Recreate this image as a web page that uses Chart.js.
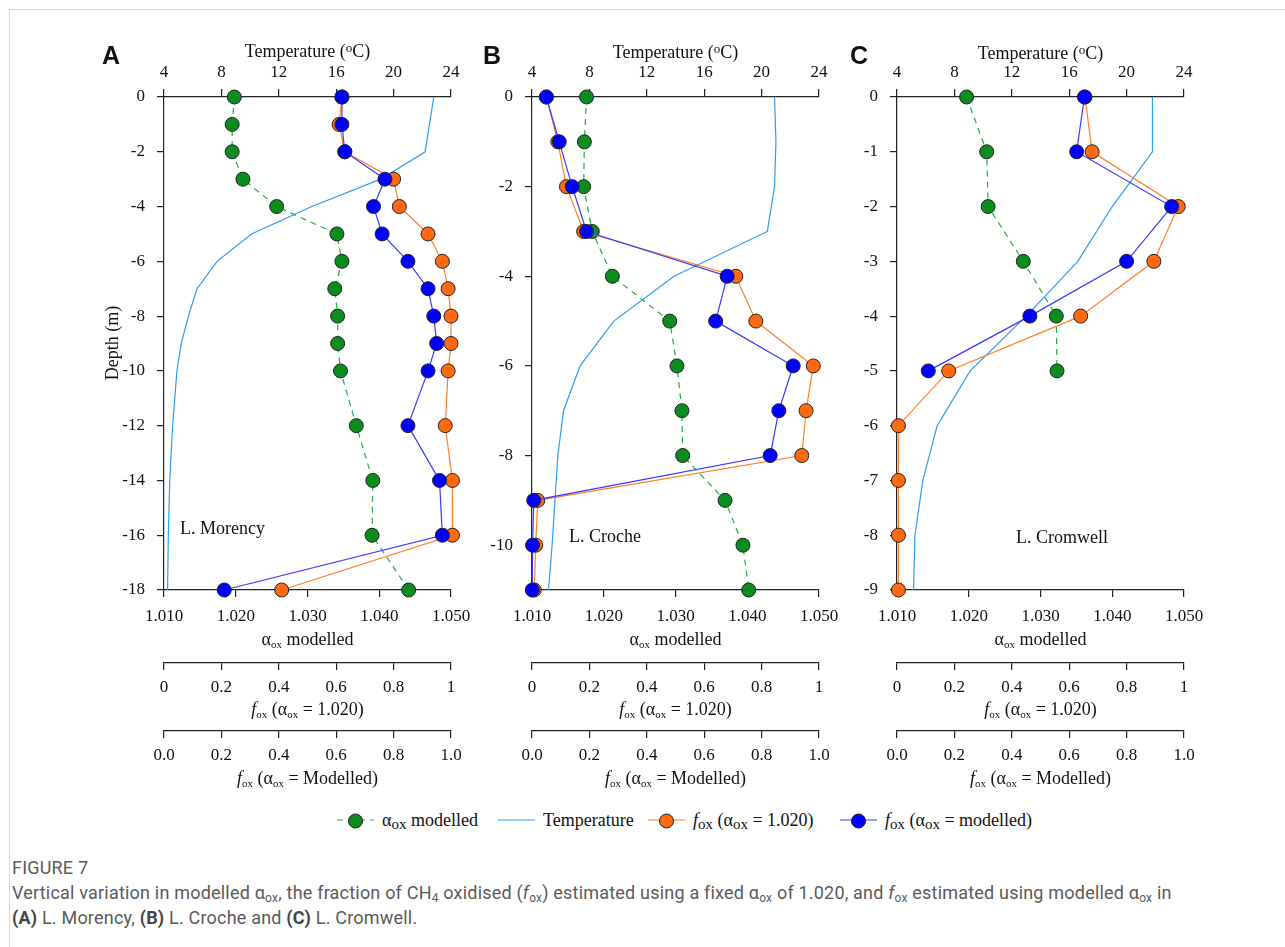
<!DOCTYPE html>
<html>
<head>
<meta charset="utf-8">
<script src="https://cdn.jsdelivr.net/npm/chart.js@4.4.0/dist/chart.umd.min.js"></script>
<style>
  body { margin: 0; background: #fff; }
  #fig { position: relative; width: 1285px; height: 947px; overflow: hidden;
         font-family: 'Liberation Serif', 'Times New Roman', serif; color: #111; }
  #frame { position: absolute; left: 9px; top: 9px; right: 0; bottom: 0;
           border-top: 1px solid #d6d6d6; border-left: 1px solid #d6d6d6; }
  canvas { position: absolute; }
  .t { position: absolute; white-space: nowrap; font-size: 18px; line-height: 1;
       transform: translate(-50%, -50%); }
  .t sub { font-size: 11px; vertical-align: -3px; line-height: 0; }
  .t sup { font-size: 13px; vertical-align: 5px; line-height: 0; }
  .rot { transform: translate(-50%, -50%) rotate(-90deg); }
  .lake { position: absolute; font-size: 18px; line-height: 1; transform: translateY(-50%); white-space: nowrap; }
  .letter { position: absolute; font-family: 'Liberation Sans', Arial, sans-serif; font-weight: bold;
            font-size: 25px; line-height: 1; transform: translateY(-50%); }
  .lg { position: absolute; top: 820px; transform: translateY(-50%); display: flex; align-items: center;
        font-size: 18px; white-space: nowrap; }
  .lg sub { font-size: 15px; vertical-align: -3px; line-height: 0; }
  .sym { position: relative; width: 37px; height: 16px; margin-right: 8px; }
  .ln { position: absolute; left: 0; right: 0; top: 7px; height: 1.4px; }
  .dot { position: absolute; left: 11px; top: 1px; width: 15px; height: 15px; box-sizing: border-box;
         border-radius: 50%; border: 1px solid #222; }
  #cap { position: absolute; left: 12px; top: 855px; font-family: Roboto, 'Noto Sans', sans-serif;
         color: #5a5a5a; font-size: 18px; letter-spacing: 0.2px; line-height: 25px; white-space: nowrap; }
  #cap sub { font-size: 12px; vertical-align: -3px; line-height: 0; }
  #cap b { color: #444; }
</style>
</head>
<body>
<div id="fig">
  <div id="frame"></div>
  <canvas id="chartA"></canvas>
  <canvas id="chartB"></canvas>
  <canvas id="chartC"></canvas>
</div>
<script>
// ----------------------------------------------------------------------
// Data
// ----------------------------------------------------------------------
const TEMP_TICKS = [4, 8, 12, 16, 20, 24];
const ALPHA_TICKS = [1.01, 1.02, 1.03, 1.04, 1.05];
const ALPHA_LABELS = ['1.010', '1.020', '1.030', '1.040', '1.050'];
const FOX_TICKS = [0, 0.2, 0.4, 0.6, 0.8, 1];
const FOX_FIXED_LABELS = ['0', '0.2', '0.4', '0.6', '0.8', '1'];
const FOX_MOD_LABELS = ['0.0', '0.2', '0.4', '0.6', '0.8', '1.0'];

// A - L. Morency
const DEPTH_TICKS_A = [0, -2, -4, -6, -8, -10, -12, -14, -16, -18];
const DEPTH_A = [0, -1, -2, -3, -4, -5, -6, -7, -8, -9, -10, -12, -14, -16, -18];
const ALPHA_A = [1.0198, 1.0195, 1.0195, 1.0210, 1.0257, 1.0341, 1.0348, 1.0338, 1.0342, 1.0342, 1.0346, 1.0368, 1.0391, 1.0390, 1.0441];
const FOX_FIXED_A = [0.62, 0.61, 0.63, 0.80, 0.82, 0.92, 0.97, 0.99, 1.00, 1.00, 0.99, 0.98, 1.005, 1.005, 0.41];
const FOX_MOD_A = [0.62, 0.62, 0.63, 0.77, 0.73, 0.76, 0.85, 0.92, 0.94, 0.95, 0.92, 0.85, 0.96, 0.97, 0.21];
const TEMP_A = [22.8, 22.5, 22.2, 19.1, 14.3, 10.1, 7.7, 6.3, 5.7, 5.2, 4.9, 4.6, 4.4, 4.3, 4.25];

// B - L. Croche
const DEPTH_TICKS_B = [0, -2, -4, -6, -8, -10];
const DEPTH_B = [0, -1, -2, -3, -4, -5, -6, -7, -8, -9, -10, -11];
const ALPHA_B = [1.0176, 1.0173, 1.0172, 1.0184, 1.0212, 1.0292, 1.0302, 1.0309, 1.0310, 1.0369, 1.0394, 1.0402];
const FOX_FIXED_B = [0.05, 0.09, 0.12, 0.18, 0.71, 0.78, 0.98, 0.955, 0.94, 0.02, 0.013, 0.008];
const FOX_MOD_B = [0.05, 0.095, 0.14, 0.19, 0.68, 0.64, 0.91, 0.86, 0.83, 0.006, 0.002, 0.001];
const TEMP_B = [20.9, 21.0, 20.9, 20.4, 13.9, 9.7, 7.35, 6.2, 5.8, 5.6, 5.4, 5.15];

// C - L. Cromwell
const DEPTH_TICKS_C = [0, -1, -2, -3, -4, -5, -6, -7, -8, -9];
const DEPTH_C = [0, -1, -2, -3, -4, -5, -6, -7, -8, -9];
const DEPTH_C_SHORT = [0, -1, -2, -3, -4, -5];
const ALPHA_C = [1.0197, 1.0225, 1.0227, 1.0276, 1.0322, 1.0323];
const FOX_FIXED_C = [0.655, 0.68, 0.98, 0.895, 0.64, 0.18, 0.005, 0.005, 0.005, 0.005];
const FOX_MOD_C = [0.653, 0.626, 0.957, 0.80, 0.463, 0.109];
const TEMP_C = [21.8, 21.8, 19.0, 16.6, 13.0, 9.1, 6.8, 5.8, 5.25, 5.15];

// ----------------------------------------------------------------------
// Styles
// ----------------------------------------------------------------------
const AXIS = '#222';
const C_GREEN_LINE = '#22ad45', C_GREEN = '#0b8c1f';
const C_TEMP = '#2a9df4';
const C_ORANGE_LINE = '#ff7f2a', C_ORANGE = '#ff6a10';
const C_BLUE_LINE = '#3a3aff', C_BLUE = '#0000ff';

Chart.defaults.font.family = "'Liberation Serif', 'Times New Roman', serif";
Chart.defaults.font.size = 17;
Chart.defaults.color = '#111';

const TOP = 20, H = 770;

function setTicks(vals) {
  return s => { s.ticks = vals.map(v => ({ value: v })); };
}

function xAxis(pos, min, max, vals, labels, h, tickLen, pad, weight) {
  return {
    type: 'linear', position: pos, min: min, max: max, weight: weight,
    afterBuildTicks: setTicks(vals),
    afterFit: s => { s.height = h; },
    grid: { drawOnChartArea: false, drawTicks: true, tickLength: tickLen, color: AXIS, lineWidth: 1.2 },
    border: { display: true, color: AXIS, width: 1.2 },
    ticks: { autoSkip: false, maxRotation: 0, padding: pad, callback: (v, i) => labels[i] }
  };
}

function series(xId, xs, ys, line, fill, dash, order, radius) {
  return {
    xAxisID: xId, yAxisID: 'y',
    data: xs.map((v, i) => ({ x: v, y: ys[i] })),
    borderColor: line, borderWidth: 1.2, borderDash: dash,
    pointRadius: radius, pointBackgroundColor: fill, pointBorderColor: '#222', pointBorderWidth: 1,
    tension: 0, fill: false, clip: false, order: order
  };
}

function makePanel(id, x0, x1, yMin, depthTicks, d) {
  const canvas = document.getElementById(id);
  canvas.width = x1 - x0 + 94;
  canvas.height = H;
  canvas.style.left = (x0 - 64) + 'px';
  canvas.style.top = TOP + 'px';

  return new Chart(canvas.getContext('2d'), {
    type: 'line',
    data: {
      datasets: [
        series('fox2', d.foxMod, d.foxModDepth, C_BLUE_LINE, C_BLUE, [], 0, 7),
        series('fox1', d.foxFixed, d.foxFixedDepth, C_ORANGE_LINE, C_ORANGE, [], 1, 7),
        series('alpha', d.alpha, d.alphaDepth, C_GREEN_LINE, C_GREEN, [6, 5], 2, 7),
        series('temp', d.temp, d.tempDepth, C_TEMP, C_TEMP, [], 3, 0)
      ]
    },
    options: {
      responsive: false,
      animation: false,
      events: [],
      layout: { padding: { left: 0, right: 30, top: 0, bottom: 0 } },
      plugins: { legend: { display: false }, tooltip: { enabled: false } },
      scales: {
        y: {
          type: 'linear', position: 'left', min: yMin, max: 0,
          afterBuildTicks: setTicks(depthTicks),
          afterFit: s => { s.width = 64; },
          grid: { drawOnChartArea: false, drawTicks: true, tickLength: 7, color: AXIS, lineWidth: 1.2 },
          border: { display: true, color: AXIS, width: 1.2 },
          ticks: { autoSkip: false, padding: 12, callback: v => String(v) }
        },
        temp: xAxis('top', 4, 24, TEMP_TICKS, TEMP_TICKS.map(String), 77, 8, 6, 0),
        alpha: xAxis('bottom', 1.01, 1.05, ALPHA_TICKS, ALPHA_LABELS, 73, 7, 9, 0),
        fox1: xAxis('bottom', 0, 1, FOX_TICKS, FOX_FIXED_LABELS, 68, 7, 7, 1),
        fox2: xAxis('bottom', 0, 1, FOX_TICKS, FOX_MOD_LABELS, 59, 7, 7, 2)
      }
    }
  });
}

makePanel('chartA', 164, 451, -18, DEPTH_TICKS_A, {
  alpha: ALPHA_A, alphaDepth: DEPTH_A,
  foxFixed: FOX_FIXED_A, foxFixedDepth: DEPTH_A,
  foxMod: FOX_MOD_A, foxModDepth: DEPTH_A,
  temp: TEMP_A, tempDepth: DEPTH_A
});
makePanel('chartB', 532, 819, -11, DEPTH_TICKS_B, {
  alpha: ALPHA_B, alphaDepth: DEPTH_B,
  foxFixed: FOX_FIXED_B, foxFixedDepth: DEPTH_B,
  foxMod: FOX_MOD_B, foxModDepth: DEPTH_B,
  temp: TEMP_B, tempDepth: DEPTH_B
});
makePanel('chartC', 897, 1184, -9, DEPTH_TICKS_C, {
  alpha: ALPHA_C, alphaDepth: DEPTH_C_SHORT,
  foxFixed: FOX_FIXED_C, foxFixedDepth: DEPTH_C,
  foxMod: FOX_MOD_C, foxModDepth: DEPTH_C_SHORT,
  temp: TEMP_C, tempDepth: DEPTH_C
});

// ----------------------------------------------------------------------
// Text: axis titles, panel letters, lake names, legend, caption
// ----------------------------------------------------------------------
const fig = document.getElementById('fig');

function put(cls, html, x, y) {
  const el = document.createElement('div');
  el.className = cls;
  el.innerHTML = html;
  el.style.left = x + 'px';
  el.style.top = y + 'px';
  fig.appendChild(el);
  return el;
}

const TITLE_TEMP = 'Temperature (<sup>o</sup>C)';
const TITLE_ALPHA = '&alpha;<sub>ox</sub> modelled';
const TITLE_FOX_FIXED = '<i>f</i><sub>ox</sub> (&alpha;<sub>ox</sub> = 1.020)';
const TITLE_FOX_MOD = '<i>f</i><sub>ox</sub> (&alpha;<sub>ox</sub> = Modelled)';

[[307.5, 51], [675.5, 52], [1040.5, 53]].forEach(([cx, ty]) => {
  put('t', TITLE_TEMP, cx, ty);
  put('t', TITLE_ALPHA, cx, 639);
  put('t', TITLE_FOX_FIXED, cx, 709);
  put('t', TITLE_FOX_MOD, cx, 778);
});
put('t rot', 'Depth (m)', 112, 343);

put('letter', 'A', 102, 55);
put('letter', 'B', 483, 55);
put('letter', 'C', 850, 55);

put('lake', 'L. Morency', 180, 528);
put('lake', 'L. Croche', 569, 536);
put('lake', 'L. Cromwell', 1016, 537);

function legendItem(x, lineCss, dotColor, html) {
  const dot = dotColor ? `<span class="dot" style="background:${dotColor}"></span>` : '';
  put('lg', `<span class="sym"><span class="ln" style="${lineCss}"></span>${dot}</span><span>${html}</span>`, x, 820);
}
legendItem(337, `background:repeating-linear-gradient(90deg, ${C_GREEN_LINE} 0 6px, transparent 6px 11px)`, C_GREEN, '&alpha;<sub>ox</sub> modelled');
legendItem(498, `background:${C_TEMP}`, null, 'Temperature');
legendItem(648, `background:${C_ORANGE_LINE}`, C_ORANGE, '<i>f</i><sub>ox</sub> (&alpha;<sub>ox</sub> = 1.020)');
legendItem(840, `background:${C_BLUE_LINE}`, C_BLUE, '<i>f</i><sub>ox</sub> (&alpha;<sub>ox</sub> = modelled)');

const cap = document.createElement('div');
cap.id = 'cap';
cap.innerHTML =
  '<div>FIGURE 7</div>' +
  '<div>Vertical variation in modelled &alpha;<sub>ox</sub>, the fraction of CH<sub>4</sub> oxidised (<i>f</i><sub>ox</sub>) estimated using a fixed &alpha;<sub>ox</sub> of 1.020, and <i>f</i><sub>ox</sub> estimated using modelled &alpha;<sub>ox</sub> in</div>' +
  '<div><b>(A)</b> L. Morency, <b>(B)</b> L. Croche and <b>(C)</b> L. Cromwell.</div>';
fig.appendChild(cap);
</script>
</body>
</html>
